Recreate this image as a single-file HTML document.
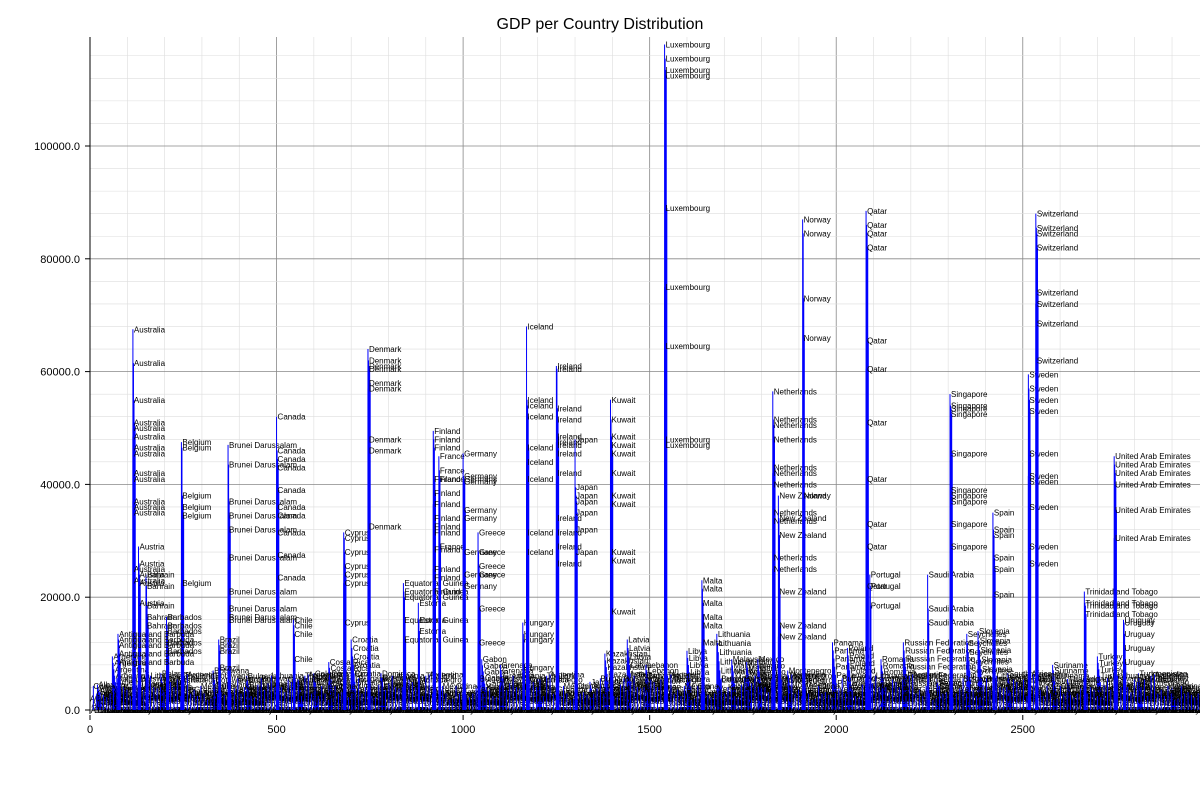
<!DOCTYPE html>
<html><head><meta charset="utf-8"><style>
body{margin:0;background:#fff;font-family:"Liberation Sans",sans-serif}
svg text{font-family:"Liberation Sans",sans-serif}
</style></head><body>
<svg id="c" width="1200" height="800" xmlns="http://www.w3.org/2000/svg">
<text x="600" y="29" text-anchor="middle" font-size="16">GDP per Country Distribution</text>
<g id="grid"></g><g id="marks"></g><g id="axes"></g>
</svg>
<script>
const xTicks=[0,500,1000,1500,2000,2500];
const yTicks=[0,20000,40000,60000,80000,100000];
const countries=["Australia","Belgium","Brunei Darussalam","Canada","Chile","Cyprus","Denmark","Equatorial Guinea","Estonia","Finland","France","Germany","Greece","Hungary","Iceland","Ireland","Japan","Kuwait","Luxembourg","Malta","Netherlands","New Zealand","Norway","Qatar","Portugal","Saudi Arabia","Singapore","Spain","Sweden","Switzerland","Trinidad and Tobago","United Arab Emirates","Uruguay","Bahrain","Austria","Barbados","Antigua and Barbuda","Brazil"];
const countryIndex=[115,245,370,500,545,680,745,840,880,920,935,1000,1040,1160,1170,1250,1300,1395,1540,1640,1830,1845,1910,2080,2090,2245,2305,2420,2515,2535,2665,2745,2770,150,130,205,75,345];
const gdpValues=[
[67500,61500,55000,51000,50000,48500,46500,45500,42000,41000,37000,36000,35000,25000,23000],
[47500,46500,38000,36000,34500,22500],
[47000,43500,37000,34500,32000,27000,21000,18000,16500,16000],
[52000,46000,44500,43000,39000,36000,34500,31500,27500,23500],
[16000,15000,13500,9000],
[31500,30500,28000,25500,24000,22500,15500],
[64000,62000,61000,60500,58000,57000,48000,46000,32500],
[22500,21000,20000,16000,12500],
[19000,16000,14000],
[49500,48000,46500,41000,38500,36500,34000,32500,31500,28500,25000,23500,21000],
[45000,42500,41000,29000],
[45500,41500,41000,40500,35500,34000,28000,24000,22000],
[31500,28000,25500,24000,18000,12000],
[15500,13500,12500,7500],
[68000,55000,54000,52000,46500,44000,41000,31500,28000],
[61000,60500,53500,51500,48500,47500,47000,45500,42000,34000,31500,29000,26000],
[48000,39500,38000,37000,35000,32000,28000],
[55000,51500,48500,47000,45500,42000,38000,36500,28000,26500,17500],
[118000,115500,113500,112500,89000,75000,64500,48000,47000],
[23000,21500,19000,16500,15000,12000],
[56500,51500,50500,48000,43000,42000,40000,35000,33500,27000,25000],
[38000,34000,31000,21000,15000,13000],
[87000,84500,73000,66000,38000],
[88500,86000,84500,82000,65500,60500,51000,41000,33000,29000,22000],
[24000,22000,18500],
[24000,18000,15500],
[56000,54000,53500,52500,45500,39000,38000,37000,33000,29000],
[35000,32000,31000,27000,25000,20500],
[59500,57000,55000,53000,45500,41500,40500,36000,29000,26000],
[88000,85500,84500,82000,74000,72000,68500,62000],
[21000,19000,18500,17000],
[45000,43500,42000,40000,35500,30500],
[16000,15500,13500,11000,8500],
[24000,22000,18500,16500,15000],
[29000,26000,24000,22500,19000],
[16500,15000,14000,12000,10500],
[13500,12500,11500,10000,8500],
[12500,11500,10500,7500]];
const lowNames=["Albania","Argentina","Belarus","Botswana","Bulgaria","China","Colombia","Costa Rica","Croatia","Dominica","Gabon","Grenada","Iran","Jamaica","Kazakhstan","Latvia","Lebanon","Libya","Lithuania","Malaysia","Mauritius","Mexico","Montenegro","Panama","Poland","Romania","Russian Federation","Serbia","Seychelles","Slovenia","South Africa","Suriname","Thailand","Turkey","Turkmenistan","Venezuela"];
const lowIndex=[20,60,190,330,420,560,600,640,700,780,1050,1100,1200,1340,1380,1440,1490,1600,1680,1720,1760,1790,1870,1990,2030,2120,2180,2270,2350,2380,2460,2580,2620,2700,2810,2900];
const lowValues=[4500,9500,6500,7000,6000,5000,6500,8500,12500,6500,9000,8000,5500,5000,10000,12500,8000,10500,13500,9000,8500,9000,7000,12000,11000,9000,12000,5500,13500,14000,6500,8000,5500,9500,6500,4000];
const L=90,R=1200,T=37,B=710;
const px=v=>L+v*(1110/2975);
const py=v=>B-v*(564/100000);
const NS="http://www.w3.org/2000/svg";
function mk(tag,attrs,parent){const e=document.createElementNS(NS,tag);for(const k in attrs)e.setAttribute(k,attrs[k]);parent.appendChild(e);return e;}
const grid=document.getElementById('grid'),marks=document.getElementById('marks'),axes=document.getElementById('axes');
for(let x=0;x<=2900;x+=100){const g=mk('line',{x1:px(x),x2:px(x),y1:T,y2:B,stroke:x%500===0?'#888':'#ddd','stroke-width':x%500===0?0.8:0.6},grid);

}
for(let v=0;v<=118000;v+=4000){const g=mk('line',{x1:L,x2:R,y1:py(v),y2:py(v),stroke:v%20000===0?'#888':'#ddd','stroke-width':v%20000===0?0.8:0.6},grid);

}
lowNames.forEach((n,i)=>{const x=lowIndex[i];const v=lowValues[i];
for(let k=0;k<6;k++){const vv=v*(1-k*0.12);
const ln=mk('line',{x1:px(x+k*2),x2:px(x+k*2),y1:py(0),y2:py(vv),stroke:'#0000ff','stroke-width':1},marks);


const t=mk('text',{x:px(x+k*2)+1,y:py(vv)+3,'font-size':8},marks);t.textContent=n;

}
});
for(let x=0;x<2975;x+=9){const idx=Math.floor(x/9);
const vv=lowValues[idx%lowValues.length]*0.45;
const ln=mk('line',{x1:px(x),x2:px(x),y1:py(0),y2:py(vv),stroke:'#0000ff','stroke-width':1},marks);


const t=mk('text',{x:px(x),y:py(vv)+3,'font-size':8},marks);t.textContent=lowNames[(idx*5)%lowNames.length];


const t2=mk('text',{x:px(x+4),y:py(vv*0.5)+3,'font-size':8},marks);t2.textContent=lowNames[(idx*7)%lowNames.length];


const t3=mk('text',{x:px(x+2),y:py(0)+3,'font-size':8},marks);t3.textContent=lowNames[(idx*3)%lowNames.length];

}
countries.forEach((n,i)=>{const x=countryIndex[i];
gdpValues[i].forEach((v,k)=>{const xx=x+(k%5)*1.5;
const ln=mk('line',{x1:px(xx),x2:px(xx),y1:py(0),y2:py(v),stroke:'#0000ff','stroke-width':1},marks);


const t=mk('text',{x:px(x)+1,y:py(v)+3,'font-size':8},marks);t.textContent=n;

});
});
const sp=mk('line',{x1:L,x2:L,y1:T,y2:B+4,stroke:'#000','stroke-width':1},axes);


yTicks.forEach(v=>{const t=mk('text',{x:L-10,y:py(v)+4,'text-anchor':'end','font-size':11},axes);t.textContent=v.toFixed(1);


const tk=mk('line',{x1:L-5,x2:L,y1:py(v),y2:py(v),stroke:'#000'},axes);

});
xTicks.forEach(v=>{const t=mk('text',{x:px(v),y:B+23,'text-anchor':'middle','font-size':11},axes);t.textContent=v;


const tk=mk('line',{x1:px(v),x2:px(v),y1:B+5,y2:B+10,stroke:'#000'},axes);

});
</script>
</body></html>
